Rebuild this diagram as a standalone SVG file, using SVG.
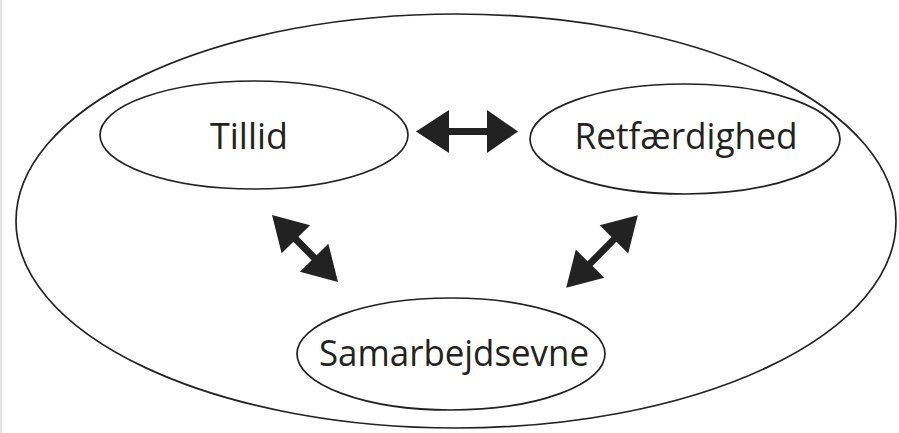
<svg xmlns="http://www.w3.org/2000/svg" width="899" height="433" viewBox="0 0 899 433">
<style>
.ell{fill:none;stroke:#222;stroke-width:1.7}
.lbl{font-family:"Open Sans","Liberation Sans",sans-serif;font-size:36px;fill:#222;text-anchor:middle}
.arr{fill:#222;stroke:none}
</style>
<rect width="899" height="433" fill="#fff"/>
<line x1="1" y1="0" x2="1" y2="433" stroke="#ddd" stroke-width="1.5"/>
<g id="outer"><ellipse class="ell" cx="456" cy="221" rx="440" ry="207"/></g>
<g id="tillid">
<ellipse class="ell" cx="254" cy="135" rx="154" ry="54"/>
<text class="lbl" x="249" y="149" textLength="78" lengthAdjust="spacingAndGlyphs">Tillid</text>
</g>
<g id="retfaerdighed">
<ellipse class="ell" cx="685" cy="139" rx="155" ry="55"/>
<text class="lbl" x="686" y="149" textLength="223" lengthAdjust="spacingAndGlyphs">Retfærdighed</text>
</g>
<g id="samarbejdsevne">
<ellipse class="ell" cx="451" cy="354" rx="154" ry="56"/>
<text class="lbl" x="454" y="366" textLength="270" lengthAdjust="spacingAndGlyphs">Samarbejdsevne</text>
</g>
<g id="connectors">
<polygon class="arr" points="416,131.5 449,110 449,128 487,128 487,110 518,131.5 487,153 487,135 449,135 449,153"/>
<g transform="translate(305,248.5) rotate(45.4)"><polygon class="arr" points="-47,0 -13,-20 -13,-3.5 13,-3.5 13,-20 47,0 13,20 13,3.5 -13,3.5 -13,20"/></g>
<g transform="translate(602,251.5) rotate(134.6)"><polygon class="arr" points="-51,0 -17,-20 -17,-3.5 17,-3.5 17,-20 51,0 17,20 17,3.5 -17,3.5 -17,20"/></g>
</g>
</svg>
